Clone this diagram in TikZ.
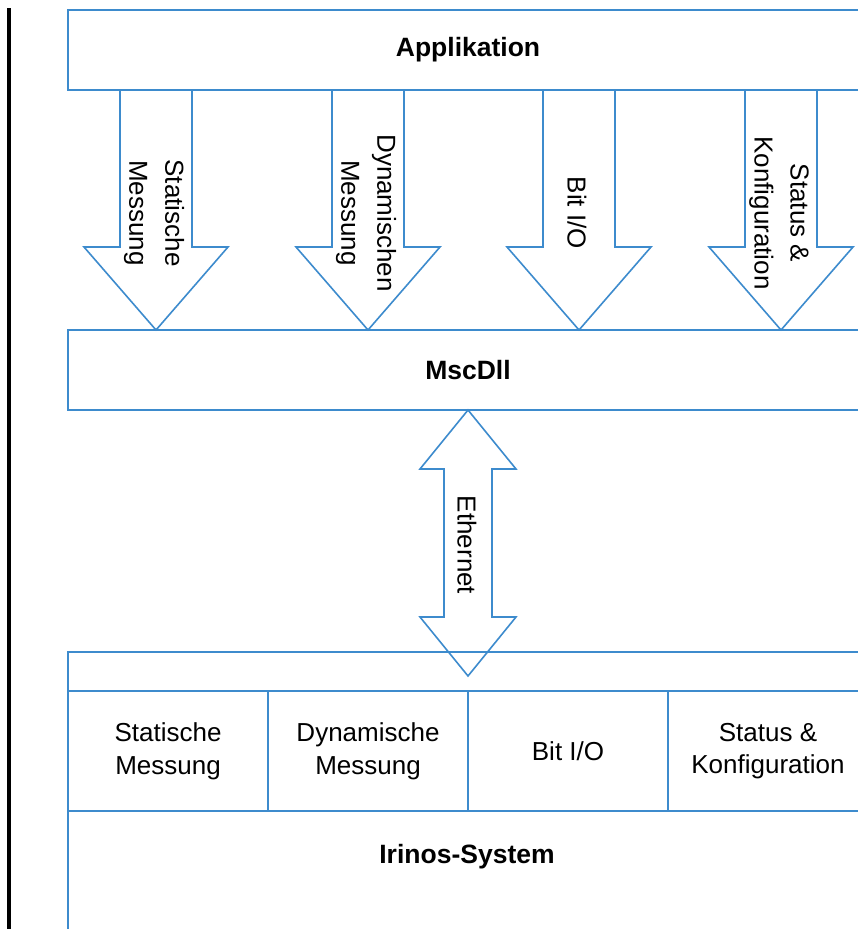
\documentclass[tikz,border=0pt]{standalone}
\usepackage{fontspec}
\setmainfont{Liberation Sans}
\usetikzlibrary{positioning,calc}
\definecolor{Frame}{HTML}{3D8BCD}

\begin{document}
\begin{tikzpicture}[x=1pt,y=-1pt,
    box/.style={rectangle,draw=Frame,line width=2pt,outer sep=0pt,minimum width=800pt,minimum height=80pt,font=\fontsize{26.5}{31}\selectfont\bfseries},
    cell/.style={rectangle,draw=Frame,line width=2pt,outer sep=0pt,minimum width=200pt,minimum height=120pt,align=center,font=\fontsize{26}{32.7}\selectfont},
    fat/.style={draw=Frame,line width=1.6pt,line join=miter},
    lbl/.style={rotate=-90,align=center,font=\fontsize{26}{36}\selectfont}
]
\useasboundingbox (0,0) rectangle (858,929);
\clip (0,0) rectangle (858,929);
\draw[line width=3.5pt] (9,8) -- (9,940);
\node[box] (app) at (468,50) {Applikation};
\node[box] (msc) at (468,370) {MscDll};
\node[box,minimum height=320pt,anchor=north] (sys) at (468,652) {};
\node[cell] (stat) at (168,751) {Statische\\Messung};
\node[cell,right=0pt of stat] (dyn) {Dynamische\\Messung};
\node[cell,right=0pt of dyn] (bit) {Bit I/O};
\node[cell,right=0pt of bit] (conf) {Status \&\\Konfiguration};
\node[font=\fontsize{26.5}{31}\selectfont\bfseries] (irinos) at (467,857) {Irinos-System};
% Pfeile Applikation -> MscDll
\draw[fat] (app.south -| 120,0) -- (120,247) -- (84,247) -- (msc.north -| 156,0) -- (228,247) -- (192,247) -- (app.south -| 192,0);
\draw[fat] (app.south -| 332,0) -- (332,247) -- (296,247) -- (msc.north -| 368,0) -- (440,247) -- (404,247) -- (app.south -| 404,0);
\draw[fat] (app.south -| 543,0) -- (543,247) -- (507,247) -- (msc.north -| 579,0) -- (651,247) -- (615,247) -- (app.south -| 615,0);
\draw[fat] (app.south -| 745,0) -- (745,247) -- (709,247) -- (msc.north -| 781,0) -- (853,247) -- (817,247) -- (app.south -| 817,0);
\node[lbl] (lstat) at (154,213) {Statische\\Messung};
\node[lbl] (ldyn) at (366,213) {Dynamischen\\Messung};
\node[lbl] (lbit) at (577,213) {Bit I/O};
\node[lbl] (lconf) at (779,213) {Status \&\\Konfiguration};
% Ethernet
\draw[fat] (msc.south -| 468,0) -- (516,469) -- (492,469) -- (492,617) -- (516,617) -- ($(sys.north)+(0,24)$) -- (420,617) -- (444,617) -- (444,469) -- (420,469) -- cycle;
\node[lbl] (leth) at (467,545) {Ethernet};
\end{tikzpicture}
\end{document}
